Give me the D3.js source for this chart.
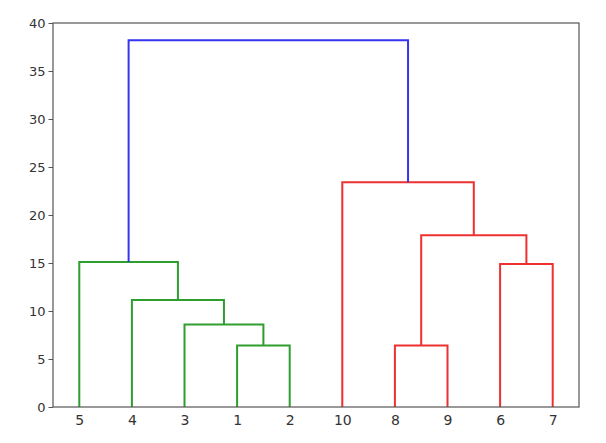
<!DOCTYPE html>
<html><head><meta charset="utf-8">
<script src="https://cdn.jsdelivr.net/npm/d3@7"></script>
<style>body{margin:0;background:#fff}svg{display:block}text{font-family:"DejaVu Sans",sans-serif}</style>
</head><body><svg id="c" width="606" height="443"></svg>
<script>
const leafLabels = ['5','4','3','1','2','10','8','9','6','7'];
const mergeLeft   = ['1', '3',  '4',  '5',  '8', '6',  'm4', '10', 'm3'];
const mergeRight  = ['2', 'm0', 'm1', 'm2', '9', '7',  'm5', 'm6', 'm7'];
const mergeHeight = [6.4, 8.6,  11.15, 15.1, 6.4, 14.9, 17.9, 23.4, 38.2];
const mergeColor  = ['green','green','green','green','red','red','red','red','blue'];
const yTicks = [0,5,10,15,20,25,30,35,40];

const palette = {green:'#2e9e2e', red:'#ee3030', blue:'#3535f0'};
const W=606,H=443, m={l:53,t:23,r:27,b:36};
const svg=d3.select('#c');
const x=d3.scaleLinear().domain([0,leafLabels.length*10]).range([m.l,W-m.r]);
const y=d3.scaleLinear().domain([0,40]).range([H-m.b,m.t]);

const pos={};
leafLabels.forEach((l,i)=>pos[l]={x:i*10+5,h:0});
mergeLeft.forEach((a,i)=>{
  const L=pos[a], R=pos[mergeRight[i]], h=mergeHeight[i];
  svg.append('path').attr('fill','none').attr('stroke',palette[mergeColor[i]]).attr('stroke-width',2)
    .attr('stroke-linejoin','miter')
    .attr('d',`M${x(L.x)},${y(L.h)}V${y(h)}H${x(R.x)}V${y(R.h)}`);
  pos['m'+i]={x:(L.x+R.x)/2,h:h};
});

// frame
svg.append('rect').attr('x',m.l).attr('y',m.t).attr('width',W-m.l-m.r).attr('height',H-m.t-m.b)
  .attr('fill','none').attr('stroke','#555').attr('stroke-width',1.2);

const ya=svg.append('g').attr('transform',`translate(${m.l},0)`)
  .call(d3.axisLeft(y).tickValues(yTicks).tickSize(4.5).tickPadding(3));
const xa=svg.append('g').attr('transform',`translate(0,${H-m.b})`)
  .call(d3.axisBottom(x).tickValues(leafLabels.map((l,i)=>i*10+5)).tickFormat((d,i)=>leafLabels[i]).tickSize(0).tickPadding(8));
[ya,xa].forEach(g=>{
  g.select('.domain').remove();
  g.selectAll('line').attr('stroke','#555');
  g.selectAll('text').attr('fill','#333').style('font-size','13px').style('font-family','"DejaVu Sans",sans-serif');
});
xa.selectAll('text').style('font-size','14px');
</script></body></html>
